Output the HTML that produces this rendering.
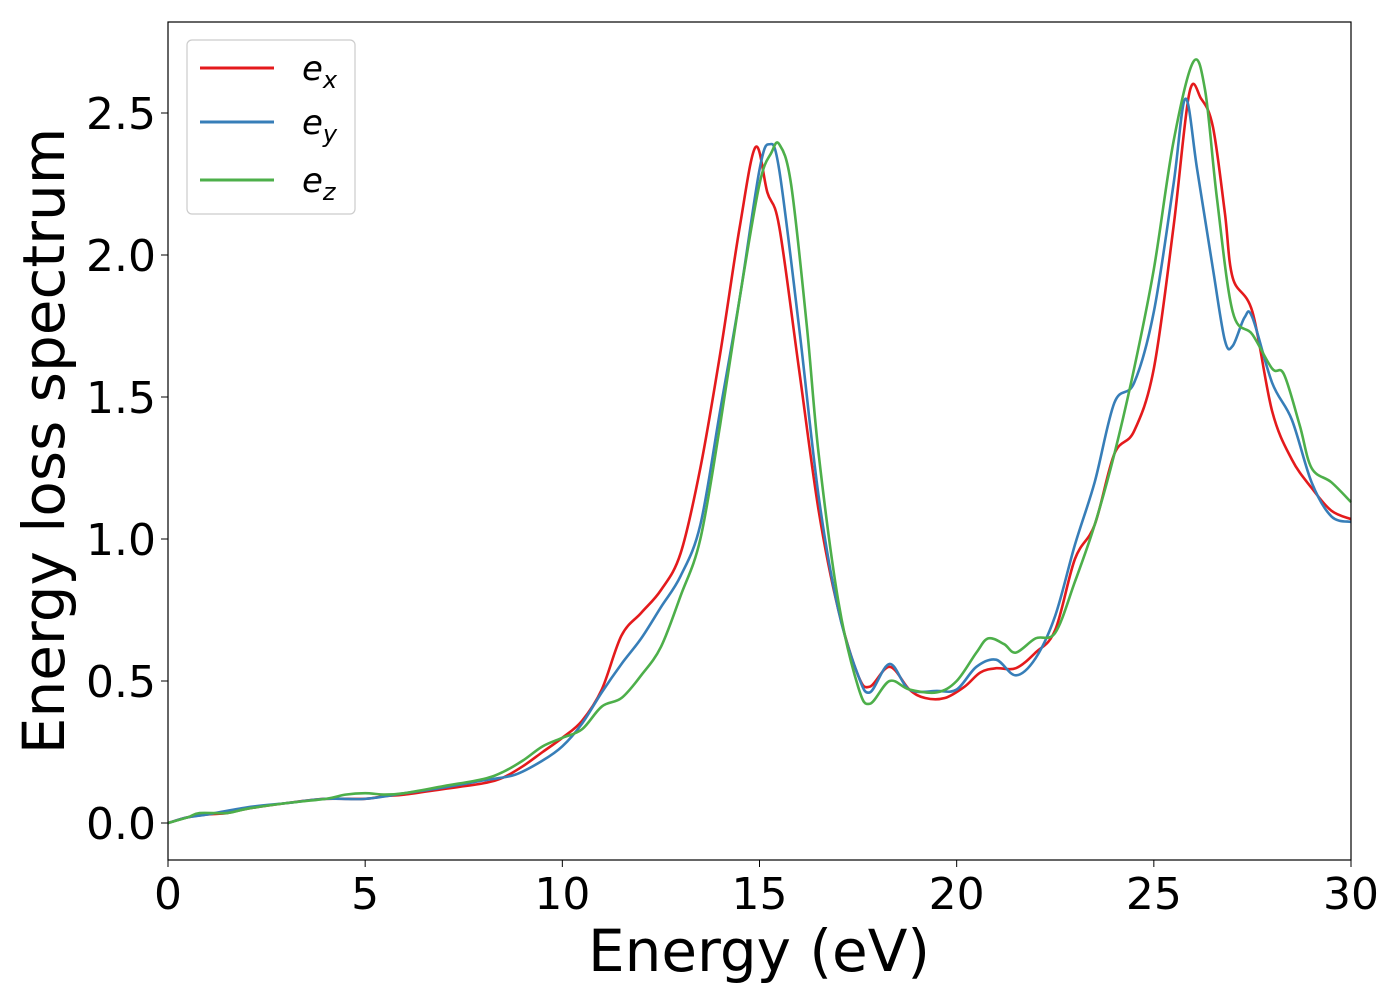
<!DOCTYPE html>
<html><head><meta charset="utf-8"><style>
body{margin:0;background:#fff;}
svg text{font-family:"DejaVu Sans","Liberation Sans",sans-serif;}
</style></head><body>
<svg id="chart" width="1400" height="1000" viewBox="0 0 1400 1000" xmlns="http://www.w3.org/2000/svg">
<rect x="0" y="0" width="1400" height="1000" fill="#fff"/>
<g id="ticks"></g>
<g id="series"></g>
<rect x="168" y="22" width="1183" height="838" fill="none" stroke="#000" stroke-width="1.2"/>
<text x="759" y="971" font-size="58" text-anchor="middle">Energy (eV)</text>
<text transform="translate(64,441) rotate(-90)" font-size="58" text-anchor="middle">Energy loss spectrum</text>
<g>
<rect x="187" y="40" width="168" height="174" rx="5" fill="#fff" stroke="#ccc" stroke-width="1.2"/>
<line x1="200" y1="68" x2="274" y2="68" stroke="#e41a1c" stroke-width="3"/>
<text x="302" y="80" font-size="34" font-style="italic">e<tspan font-size="24" dy="8">x</tspan></text>
<line x1="200" y1="122" x2="274" y2="122" stroke="#377eb8" stroke-width="3"/>
<text x="302" y="134" font-size="34" font-style="italic">e<tspan font-size="24" dy="8">y</tspan></text>
<line x1="200" y1="180" x2="274" y2="180" stroke="#4daf4a" stroke-width="3"/>
<text x="302" y="192" font-size="34" font-style="italic">e<tspan font-size="24" dy="8">z</tspan></text>
</g>
</svg>
<script>
const xTicks=[0,5,10,15,20,25,30];
const yTicks=[0.0,0.5,1.0,1.5,2.0,2.5];
const exE=[0,0.5,1,1.5,2,3,4,5,5.5,6,7,8,8.5,9,9.5,10,10.5,11,11.5,12,12.5,13,13.5,14,14.5,14.9,15.2,15.5,16,16.5,17,17.5,17.8,18.3,18.8,19.2,19.7,20.2,20.6,21,21.5,22,22.5,23,23.5,24,24.5,25,25.5,25.9,26.2,26.5,26.8,27,27.5,28,28.5,29,29.5,30];
const exV=[0,0.02,0.03,0.035,0.05,0.07,0.085,0.085,0.095,0.1,0.12,0.14,0.16,0.2,0.25,0.3,0.36,0.47,0.66,0.74,0.82,0.95,1.25,1.65,2.1,2.38,2.22,2.1,1.6,1.1,0.75,0.52,0.48,0.55,0.47,0.44,0.44,0.48,0.53,0.545,0.545,0.6,0.68,0.93,1.05,1.3,1.38,1.6,2.1,2.57,2.55,2.45,2.15,1.92,1.8,1.45,1.28,1.18,1.1,1.07];
const eyE=[0,0.5,1,2,3,4,5,6,7,8,8.8,9.5,10,10.5,11,11.5,12,12.5,13,13.5,14,14.5,15,15.25,15.5,16,16.5,17,17.5,17.8,18.3,18.8,19.5,20,20.5,21,21.5,22,22.5,23,23.5,24,24.5,25,25.5,25.8,26.1,26.5,26.8,27,27.3,27.5,28,28.5,29,29.5,30];
const eyV=[0,0.02,0.03,0.055,0.07,0.085,0.085,0.105,0.125,0.15,0.17,0.22,0.27,0.35,0.46,0.56,0.65,0.76,0.87,1.05,1.45,1.85,2.3,2.39,2.3,1.75,1.15,0.75,0.52,0.46,0.56,0.47,0.465,0.47,0.55,0.575,0.52,0.58,0.73,0.98,1.2,1.48,1.55,1.8,2.25,2.55,2.3,1.95,1.7,1.68,1.78,1.78,1.55,1.42,1.2,1.08,1.06];
const ezE=[0,0.5,0.8,1.5,2,3,4,4.5,5,5.5,6,7,8,8.5,9,9.5,10,10.5,11,11.5,12,12.5,13,13.5,14,14.5,15,15.3,15.5,15.8,16.2,16.5,17,17.5,17.8,18.3,18.8,19.5,20,20.5,20.8,21.2,21.5,22,22.5,23,23.5,24,24.5,25,25.5,26,26.3,26.6,27,27.5,28,28.3,28.7,29,29.5,30];
const ezV=[0,0.02,0.035,0.035,0.05,0.07,0.085,0.1,0.105,0.1,0.105,0.13,0.155,0.18,0.22,0.27,0.3,0.33,0.41,0.44,0.52,0.62,0.8,1.0,1.4,1.85,2.25,2.36,2.39,2.25,1.75,1.3,0.78,0.48,0.42,0.5,0.47,0.46,0.5,0.6,0.65,0.63,0.6,0.65,0.67,0.85,1.05,1.3,1.6,1.95,2.4,2.68,2.58,2.2,1.8,1.72,1.6,1.58,1.4,1.25,1.2,1.13];
const NS='http://www.w3.org/2000/svg';
const X=v=>168+v*(1183/30);
const Y=v=>823-v*284;
const tg=document.getElementById('ticks');
xTicks.forEach(t=>{
 const l=document.createElementNS(NS,'line');
 l.setAttribute('x1',X(t));l.setAttribute('x2',X(t));l.setAttribute('y1',860);l.setAttribute('y2',867);l.setAttribute('stroke','#000');
 
 
 tg.appendChild(l);
 const tx=document.createElementNS(NS,'text');
 tx.setAttribute('x',X(t));tx.setAttribute('y',909);tx.setAttribute('font-size','44');tx.setAttribute('text-anchor','middle');
 tx.textContent=t;
 
 
 tg.appendChild(tx);
});
yTicks.forEach(t=>{
 const l=document.createElementNS(NS,'line');
 l.setAttribute('x1',161);l.setAttribute('x2',168);l.setAttribute('y1',Y(t));l.setAttribute('y2',Y(t));l.setAttribute('stroke','#000');
 
 
 tg.appendChild(l);
 const tx=document.createElementNS(NS,'text');
 tx.setAttribute('x',156);tx.setAttribute('y',Y(t)+16);tx.setAttribute('font-size','44');tx.setAttribute('text-anchor','end');
 tx.textContent=t.toFixed(1);
 
 
 tg.appendChild(tx);
});
function smooth(xs,ys){
 const p=xs.map((x,i)=>[X(x),Y(ys[i])]);
 let d='M'+p[0][0]+','+p[0][1];
 for(let i=0;i<p.length-1;i++){
  const p0=p[i-1]||p[i],p1=p[i],p2=p[i+1],p3=p[i+2]||p[i+1];
  const c1=[p1[0]+(p2[0]-p0[0])/6,p1[1]+(p2[1]-p0[1])/6];
  const c2=[p2[0]-(p3[0]-p1[0])/6,p2[1]-(p3[1]-p1[1])/6];
  d+=' C'+c1.join(',')+' '+c2.join(',')+' '+p2.join(',');
 }
 return d;
}
const sg=document.getElementById('series');
[[exE,exV,'#e41a1c','series-ex'],[eyE,eyV,'#377eb8','series-ey'],[ezE,ezV,'#4daf4a','series-ez']].forEach(s=>{
 const path=document.createElementNS(NS,'path');
 path.setAttribute('d',smooth(s[0],s[1]));
 path.setAttribute('fill','none');path.setAttribute('stroke',s[2]);path.setAttribute('stroke-width','2.6');
 
 
 sg.appendChild(path);
});
</script>
</body></html>
